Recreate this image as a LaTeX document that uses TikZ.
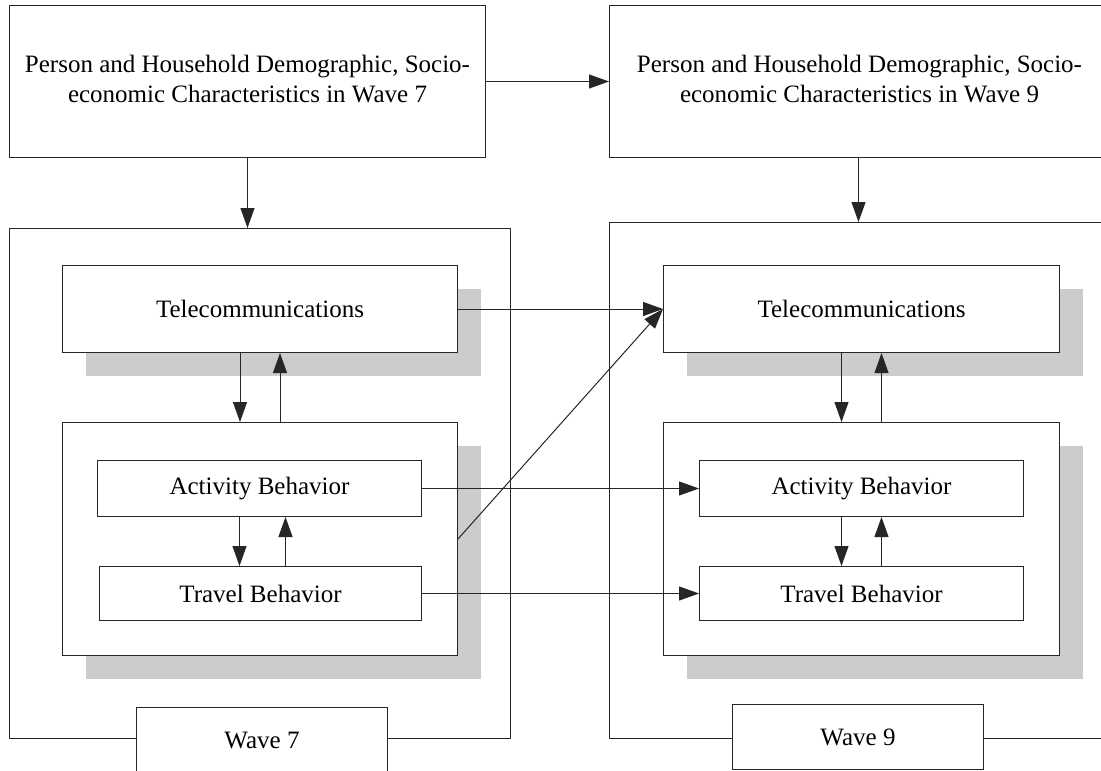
\documentclass[tikz,border=0pt]{standalone}
\usepackage{fontspec}
\setmainfont{Liberation Serif}
\usetikzlibrary{arrows.meta,shadows}
\begin{document}
\begin{tikzpicture}[x=1pt,y=-1pt,
  every node/.style={font=\fontsize{25}{31}\selectfont},
  ln/.style={draw=black!85, line width=1pt},
  box/.style={ln, rectangle, fill=white, inner sep=0pt, align=center, anchor=north west},
  shbox/.style={box, drop shadow={shadow xshift=23pt, shadow yshift=-23pt, fill=black!20, draw=none, opacity=1}},
  arr/.style={ln, -{Triangle[length=20pt,width=14pt]}},
]
\path[use as bounding box] (0,0) rectangle (1101,771);
\clip (0,0) rectangle (1101,771);

% outer wave boxes
\node[box, minimum width=501pt, minimum height=510pt] (w7) at (9,228) {};
\node[box, minimum width=510pt, minimum height=516pt] (w9) at (609,222) {};

% top boxes
\node[box, minimum width=476pt, minimum height=152pt] (top1) at (9,5)
  {\raisebox{-3pt}{\begin{tabular}{@{}c@{}}Person and Household Demographic, Socio-\\[-1pt]economic Characteristics in Wave 7\end{tabular}}};
\node[box, minimum width=500pt, minimum height=152pt] (top2) at (609,5)
  {\raisebox{-3pt}{\begin{tabular}{@{}c@{}}Person and Household Demographic, Socio-\\[-1pt]economic Characteristics in Wave 9\end{tabular}}};

% wave 7 contents
\node[shbox, minimum width=395pt, minimum height=87pt] (tel1) at (62,265) {Telecommunications};
\node[shbox, minimum width=395pt, minimum height=233pt] (cont1) at (62,422) {};
\node[box, minimum width=324pt, minimum height=56pt] (act1) at (97,460) {Activity Behavior};
\node[box, minimum width=322pt, minimum height=54pt] (trav1) at (99,566) {Travel Behavior};

% wave 9 contents
\node[shbox, minimum width=396pt, minimum height=87pt] (tel2) at (663,265) {Telecommunications};
\node[shbox, minimum width=396pt, minimum height=233pt] (cont2) at (663,422) {};
\node[box, minimum width=324pt, minimum height=56pt] (act2) at (699,460) {Activity Behavior};
\node[box, minimum width=324pt, minimum height=54pt] (trav2) at (699,566) {Travel Behavior};

% wave labels
\node[box, minimum width=251pt, minimum height=66pt] (lab7) at (136,707) {Wave 7};
\node[box, minimum width=251pt, minimum height=65pt] (lab9) at (732,704) {Wave 9};

% arrows
\draw[arr] (top1.east) -- (top2.west);
\draw[arr] (top1.south) -- (top1.south |- w7.north);
\draw[arr] ([xshift=-1pt]top2.south) -- ([xshift=-1pt]top2.south |- w9.north);

\draw[arr] ([xshift=-20pt]tel1.south) -- ([xshift=-20pt]tel1.south |- cont1.north);
\draw[arr] ([xshift=20pt]tel1.south |- cont1.north) -- ([xshift=20pt]tel1.south);
\draw[arr] ([xshift=-20pt]act1.south) -- ([xshift=-20pt]act1.south |- trav1.north);
\draw[arr] ([xshift=26pt]act1.south |- trav1.north) -- ([xshift=26pt]act1.south);

\draw[arr] ([xshift=-20pt]tel2.south) -- ([xshift=-20pt]tel2.south |- cont2.north);
\draw[arr] ([xshift=20pt]tel2.south |- cont2.north) -- ([xshift=20pt]tel2.south);
\draw[arr] ([xshift=-20pt]act2.south) -- ([xshift=-20pt]act2.south |- trav2.north);
\draw[arr] ([xshift=20pt]act2.south |- trav2.north) -- ([xshift=20pt]act2.south);

\draw[arr] (tel1.east) -- (tel2.west);
\draw[arr] (act1.east) -- (act2.west);
\draw[arr] (trav1.east) -- (trav2.west);
\draw[arr] (cont1.east) -- (tel2.west);
\end{tikzpicture}
\end{document}
